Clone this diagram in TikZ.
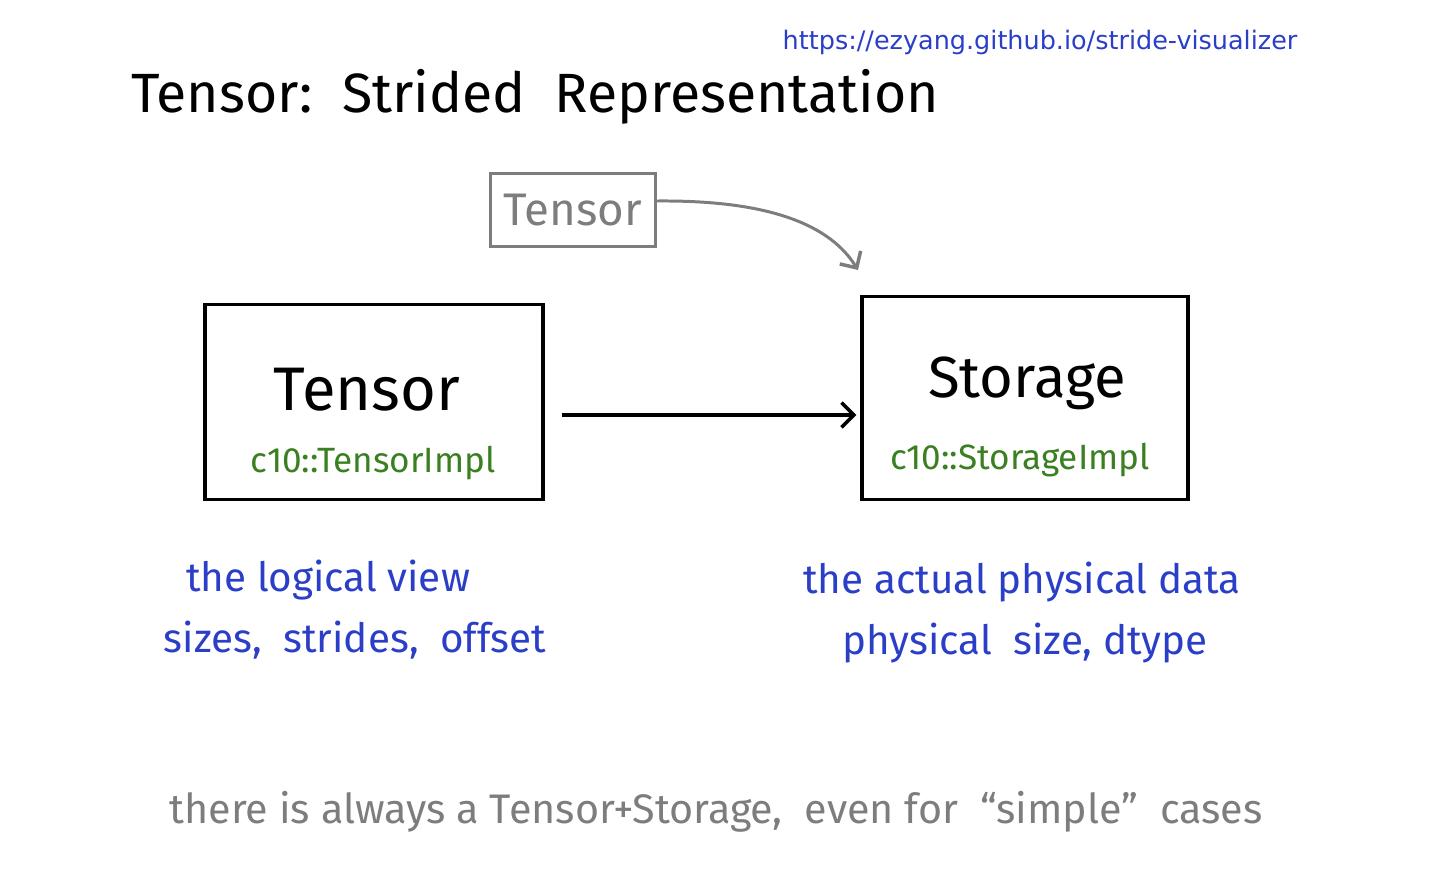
\documentclass[tikz,border=0pt]{standalone}
\usepackage{fontspec}
\setmainfont{Fira Sans}
\newfontfamily\urlfont{DejaVu Sans}
\usetikzlibrary{arrows.meta}

\definecolor{inkblue}{RGB}{42,62,200}
\definecolor{inkgreen}{RGB}{58,128,32}
\definecolor{inkgray}{RGB}{125,125,125}

\tikzset{
    bigbox/.style={draw, line width=2pt, inner sep=0pt},
    implname/.style={text=inkgreen, font=\fontsize{20}{22}\selectfont},
    note/.style={text=inkblue, font=\fontsize{23}{25}\selectfont},
    conn/.style={line width=2pt, -{Straight Barb[length=7pt, width=14pt, line width=2pt]}}
}

\begin{document}
\begin{tikzpicture}[x=0.02cm, y=-0.02cm]
        \useasboundingbox (0,0) rectangle (1432,886);

        % Heading and link
        \node[font=\fontsize{31.5}{34}\selectfont] (title) at (535,97) {Tensor:\ \ Strided\ \ Representation};
        \node[text=inkblue, font=\urlfont\fontsize{14.5}{16}\selectfont] (link) at (1040,42) {https://ezyang.github.io/stride-visualizer};

        % Small tensor box
        \node[draw, inkgray, text=inkgray, line width=1.7pt, minimum width=3.3cm, minimum height=1.46cm, font=\fontsize{26}{28}\selectfont] (smalltensor) at (573,210) {Tensor};
        \coordinate (storagetop) at (858,270);

        % Boxes
        \node[bigbox, minimum width=6.76cm, minimum height=3.9cm] (tensorbox) at (374,402) {};
        \node[bigbox, minimum width=6.52cm, minimum height=4.06cm] (storagebox) at (1025,398) {};

        % Box contents
        \node[font=\fontsize{35}{40}\selectfont] (tensorname) at (367,390) {Tensor};
        \node[implname] (tensorimpl) at (373,463) {c10::TensorImpl};
        \node[font=\fontsize{33}{40}\selectfont] (storagename) at (1027,383) {Storage};
        \node[implname] (storageimpl) at (1020,460) {c10::StorageImpl};

        % Arrows
        \draw[conn, shorten <=0.34cm, shorten >=0.08cm] (tensorbox.east |- 0,415) -- (storagebox.west |- 0,415);
        \draw[conn, inkgray, line width=1.7pt] (smalltensor.east) ++(0,-9) .. controls (770,200) and (830,225) .. (storagetop);

        % Notes below
        \node[note] (logical) at (328,580) {the logical view};
        \node[note] (logicalattr) at (355,640) {sizes,\ \ strides,\ \ offset};
        \node[note] (physical) at (1022,582) {the actual physical data};
        \node[note] (physicalattr) at (1025,643) {physical\ \ size,\ dtype};

        % Footer
        \node[text=inkgray, font=\fontsize{23.5}{26}\selectfont] (footer) at (716,812) {there is always a Tensor+Storage,\ \ even for\ \ ``simple''\ \ cases};
\end{tikzpicture}
\end{document}
